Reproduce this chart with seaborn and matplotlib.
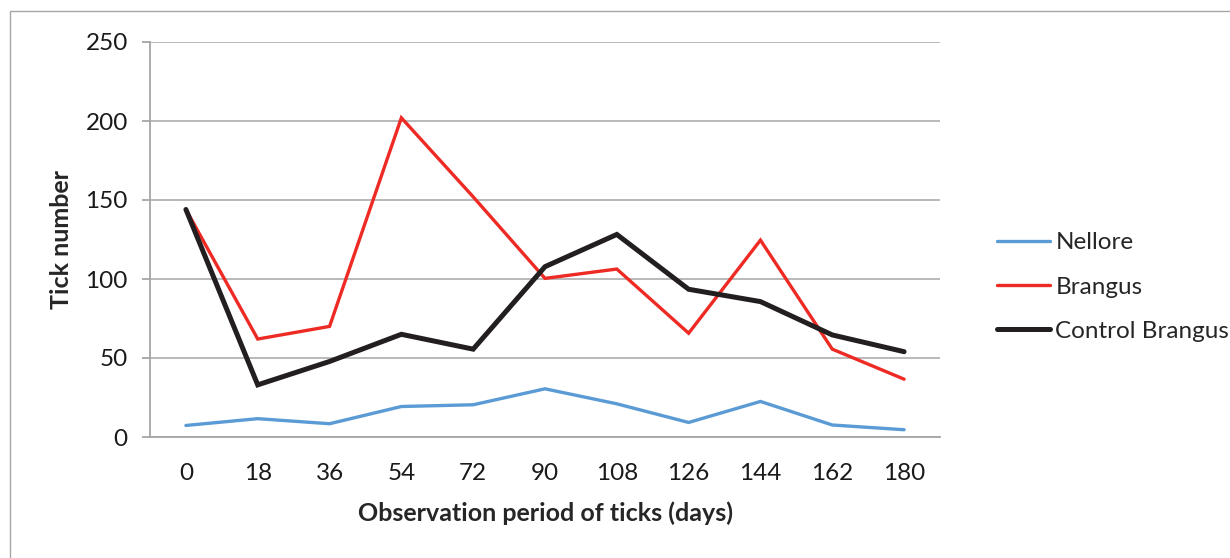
import numpy as np
import pandas as pd
import matplotlib
matplotlib.use("Agg")
import matplotlib.pyplot as plt
import seaborn as sns
from matplotlib.patches import Rectangle

# data
days = [0, 18, 36, 54, 72, 90, 108, 126, 144, 162, 180]
nellore = [7.3, 11.6, 8.4, 19.3, 20.4, 30.5, 21, 9.2, 22.5, 7.6, 4.6]
brangus = [144, 62, 70, 202, 152, 100.4, 106.3, 65.7, 124.6, 55.6, 36.6]
control_brangus = [144, 33, 47.8, 65, 55.6, 107.8, 128.2, 93.5, 85.7, 64.6, 54]
series_names = ["Nellore", "Brangus", "Control Brangus"]
colors = ["#5b9bd5", "#ee2a24", "#231f20"]
widths = [2.4, 2.4, 3.6]

df = pd.DataFrame({
    "pos": list(range(len(days))) * 3,
    "value": nellore + brangus + control_brangus,
    "series": np.repeat(series_names, len(days)),
})

sns.set_style("white")
plt.rcParams["font.family"] = ["Lato", "DejaVu Sans"]

fig = plt.figure(figsize=(12.3, 5.58), dpi=100)
ax = fig.add_axes([150 / 1230, 1 - 437 / 558, 790 / 1230, 395 / 558])

for name, col, lw in zip(series_names, colors, widths):
    sub = df[df["series"] == name]
    sns.lineplot(data=sub, x="pos", y="value", color=col, linewidth=lw,
                 label=name, ax=ax, solid_capstyle="round", solid_joinstyle="miter")

ax.set_xlim(-0.5, len(days) - 0.5)
ax.set_ylim(0, 250)
ax.set_yticks(range(0, 251, 50))
ax.set_xticks(range(len(days)))
ax.set_xticklabels([str(d) for d in days])
ax.set_xticks(np.arange(-0.5, len(days), 1), minor=True)
ax.yaxis.grid(True, color="#b3b3b3", linewidth=1.3)
ax.set_axisbelow(True)

for s in ["top", "right"]:
    ax.spines[s].set_visible(False)
for s in ["left", "bottom"]:
    ax.spines[s].set_color("#a6a6a6")
    ax.spines[s].set_linewidth(1.3)

ax.tick_params(axis="x", which="major", length=0, pad=19, labelsize=17.5, colors="#1a1a1a")
ax.tick_params(axis="x", which="minor", length=7, width=1.3, color="#a6a6a6")
ax.tick_params(axis="y", which="major", length=6, width=1.3, color="#a6a6a6",
               pad=10, labelsize=17.5, labelcolor="#1a1a1a", left=True)

ax.set_xlabel("Observation period of ticks (days)", fontsize=18, fontweight="bold", labelpad=12)
ax.set_ylabel("Tick number", fontsize=18, fontweight="bold", labelpad=9)

leg = ax.legend(loc="center left", bbox_to_anchor=(997 / 1230, 1 - 287 / 558),
                bbox_transform=fig.transFigure, frameon=False, fontsize=17.5,
                handlelength=2.2, handletextpad=0.2, labelspacing=0.95, borderaxespad=0,
                borderpad=0)

# outer chart frame
fig.add_artist(Rectangle((10 / 1230, -0.1), 1.2, 1 - 11 / 558 + 0.1,
                         transform=fig.transFigure, fill=False,
                         edgecolor="#a6a6a6", linewidth=1))

fig.savefig("out.png", dpi=100)
